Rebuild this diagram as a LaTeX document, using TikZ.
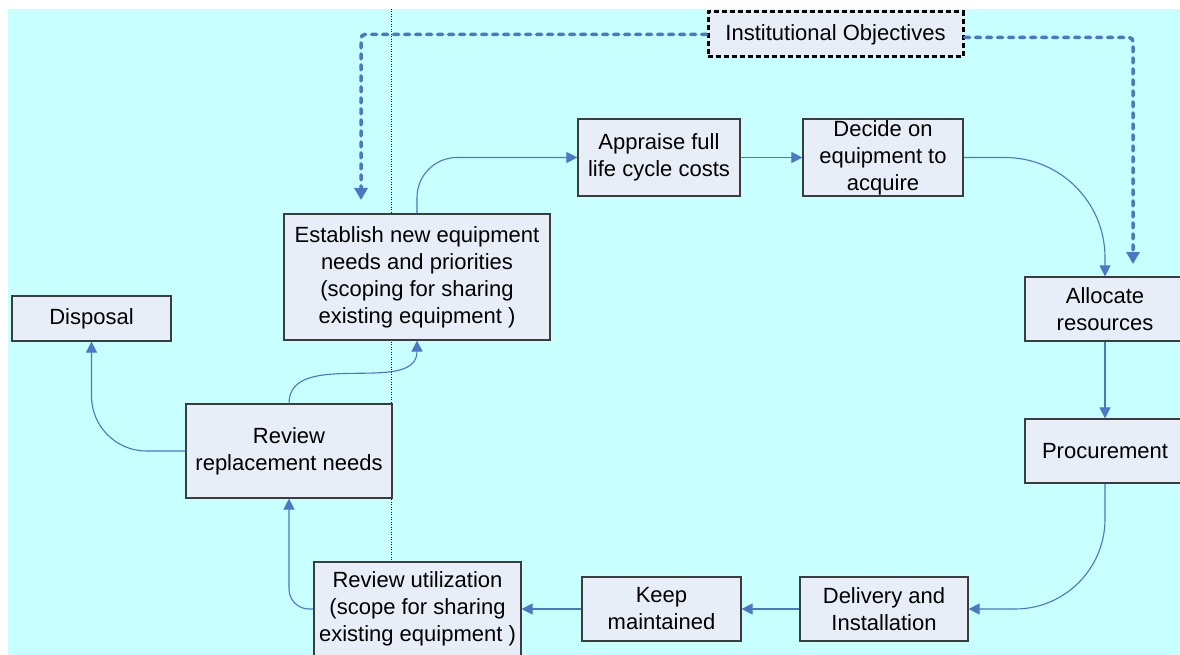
\documentclass[tikz,border=0pt]{standalone}
\usepackage{fontspec}
\setmainfont{Liberation Sans}
\usetikzlibrary{arrows.meta}
\definecolor{bgcyan}{RGB}{200,255,255}
\definecolor{boxfill}{RGB}{232,238,248}
\definecolor{flowblue}{RGB}{72,120,198}
\definecolor{boxline}{RGB}{60,60,60}

\begin{document}
\begin{tikzpicture}[x=1pt,y=1pt,
  stage/.style={draw=boxline,line width=1.2pt,fill=boxfill,text=black,inner sep=0pt,align=center,font=\fontsize{22}{27}\selectfont},
  flow/.style={flowblue,line width=1.1pt,-{Triangle[width=11pt,length=11pt]}},
  objflow/.style={flowblue,line width=3.5pt,dash pattern=on 5pt off 6pt,line cap=round,rounded corners=4pt,-{Triangle[width=13pt,length=12pt]}}]
\useasboundingbox (0,0) rectangle (1180,-655);
\fill[bgcyan] (8,-9) rectangle (1180,-655);
\draw[black,line width=0.8pt,dash pattern=on 1pt off 1.5pt] (391,-9) -- (391,-562);
\node[stage,draw=black,line width=3pt,dash pattern=on 5pt off 3pt,minimum width=255pt,minimum height=45pt] (inst) at (835.5,-34.5) {Institutional Objectives};
\node[stage,minimum width=266pt,minimum height=126pt] (est) at (417,-277) {Establish new equipment\\needs and priorities\\(scoping for sharing\\existing equipment )};
\node[stage,minimum width=162pt,minimum height=77pt] (app) at (659,-157.5) {Appraise full\\life cycle costs};
\node[stage,minimum width=160pt,minimum height=77pt] (dec) at (883,-157.5) {Decide on\\equipment to\\acquire};
\node[stage,minimum width=160pt,minimum height=64pt] (alo) at (1105,-309) {Allocate\\resources};
\node[stage,minimum width=160pt,minimum height=64pt] (pro) at (1105,-451) {Procurement};
\node[stage,minimum width=168pt,minimum height=64pt] (del) at (884,-609) {Delivery and\\Installation};
\node[stage,minimum width=159pt,minimum height=64pt] (kee) at (661.5,-609) {Keep\\maintained};
\node[stage,minimum width=207pt,minimum height=94pt] (ruti) at (417.5,-609) {Review utilization\\(scope for sharing\\existing equipment )};
\node[stage,minimum width=206pt,minimum height=94pt] (rrep) at (289,-451) {Review\\replacement needs};
\node[stage,minimum width=159pt,minimum height=45pt] (dis) at (91.5,-318.5) {Disposal};
\coordinate (estin) at (361,-200);
\coordinate (aloin) at (1133,-264);
\draw[objflow] (inst.west) -| (estin);
\draw[objflow] ([yshift=-3pt]inst.east) -| (aloin);
\draw[flow,rounded corners=40pt] (est.north) |- (app.west);
\draw[flow] (app) -- (dec);
\draw[flow,rounded corners=100pt] (dec.east) -| (alo.north);
\draw[flow] (alo) -- (pro);
\draw[flow,rounded corners=90pt] (pro.south) |- (del.east);
\draw[flow] (del) -- (kee);
\draw[flow] (kee) -- (ruti);
\draw[flow,rounded corners=20pt] (ruti.west) -| (rrep.south);
\draw[flow,rounded corners=55pt] (rrep.west) -| (dis.south);
\draw[flow] (rrep.north) to[out=90,in=-90] (est.south);
\end{tikzpicture}
\end{document}
